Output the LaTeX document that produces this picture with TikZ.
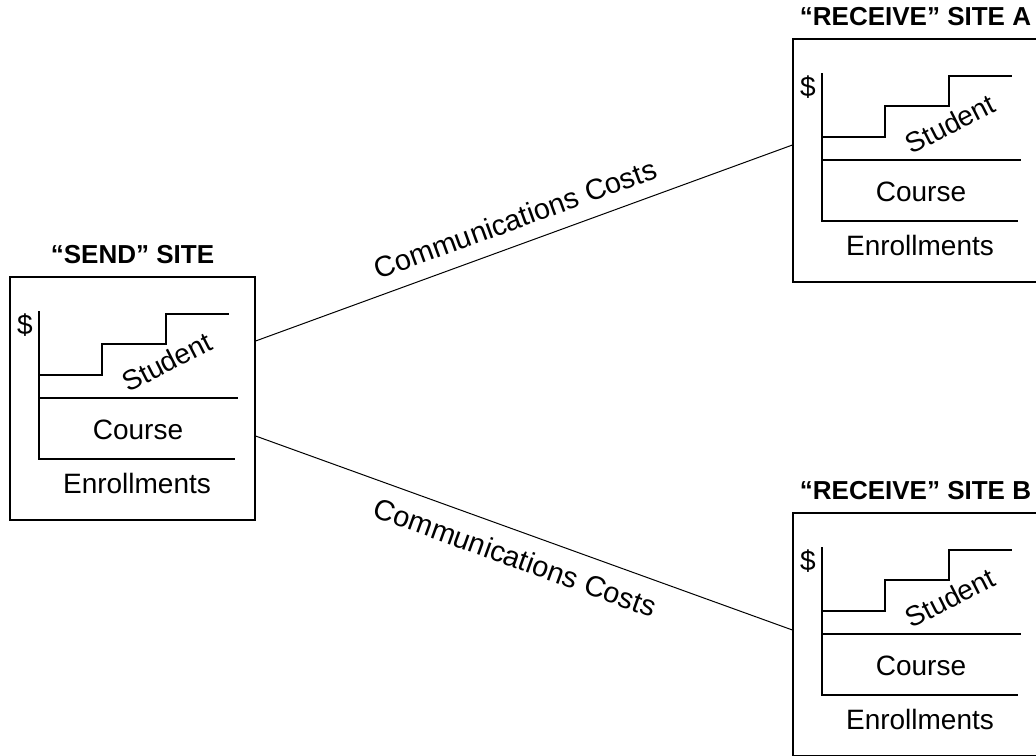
\documentclass[tikz,border=0pt]{standalone}
\usepackage{fontspec}
\setmainfont{Liberation Sans}
\tikzset{
  sitebox/.style={draw, line width=0.6pt, minimum width=122.5pt, minimum height=121.5pt, inner sep=0pt},
  sitetitle/.style={font=\fontsize{13}{15}\selectfont\bfseries},
  chartline/.style={line width=0.6pt},
  txt/.style={font=\fontsize{14}{16}\selectfont, inner sep=0pt},
  costlabel/.style={font=\fontsize{14.5}{16}\selectfont, sloped},
}
\begin{document}
\begin{tikzpicture}[x=0.5pt,y=-0.5pt]
  \useasboundingbox (0,0) rectangle (1036,755);
  \foreach \name/\dx/\dy/\ttl in {send/0/0/{“SEND” SITE},
      siteA/783/-238/{“RECEIVE” SITE A}, siteB/783/236/{“RECEIVE” SITE B}}{
    \begin{scope}[shift={(\dx,\dy)}]
      \node[sitebox, label={[sitetitle, label distance=3pt]above:\ttl}] (\name) at (132.5,398.5) {};
      \node[txt] (\name-dollar) at (25,325) {\$};
      \draw[chartline] (39,311) -- (39,459) -- (235,459);
      \draw[chartline] (39,375) -- (102,375) -- (102,344) -- (166,344) -- (166,314) -- (229,314);
      \draw[chartline] (39,398) -- (238,398);
      \node[txt, rotate=27] (\name-student) at (167,362) {Student};
      \node[txt] (\name-course) at (138,430) {Course};
      \node[txt] (\name-enroll) at (137,483) {Enrollments};
    \end{scope}
  }
  \draw[line width=0.5pt] ([yshift=28.75pt]send.east)
    -- node[costlabel, above=4pt, pos=0.5] {Communications Costs} ([yshift=7.75pt]siteA.west);
  \draw[line width=0.5pt] ([yshift=-18.75pt]send.east)
    -- node[costlabel, below=4pt, pos=0.5] {Communications Costs} ([yshift=2.25pt]siteB.west);
\end{tikzpicture}
\end{document}
